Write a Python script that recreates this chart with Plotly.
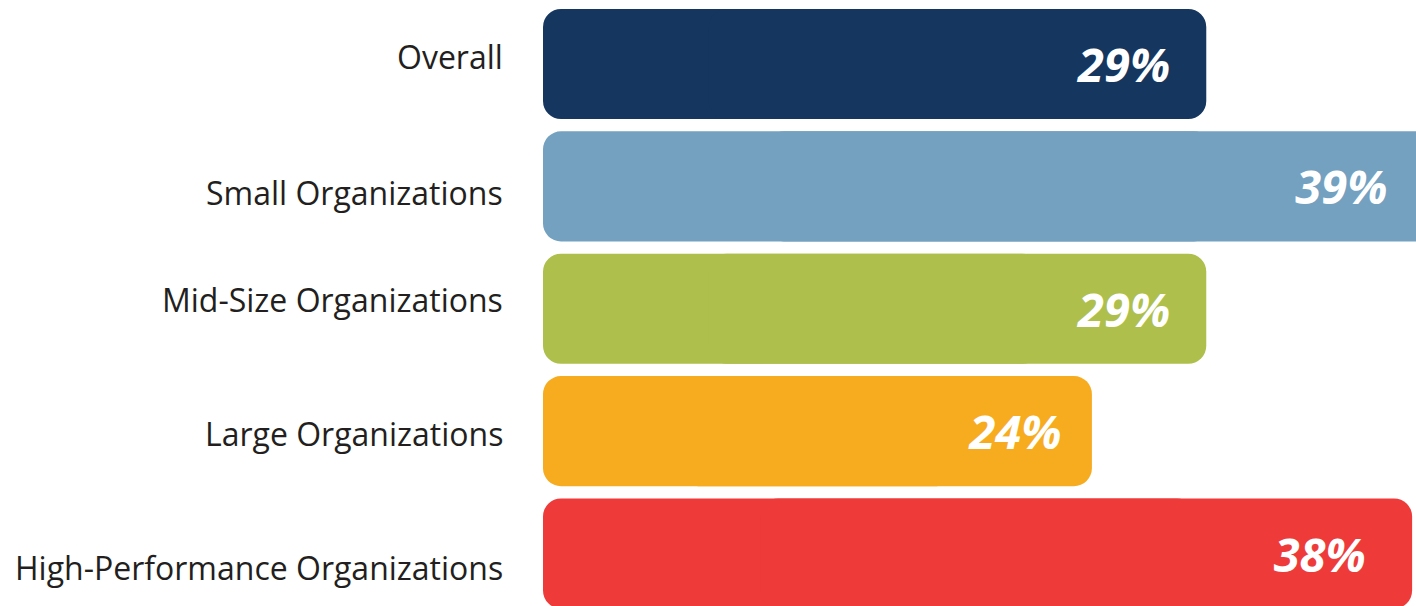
import plotly.graph_objects as go

# Share of organizations, by segment
categories = [
    "Overall",
    "Small Organizations",
    "Mid-Size Organizations",
    "Large Organizations",
    "High-Performance Organizations",
]
values = [29, 39, 29, 24, 38]
value_labels = ["29%", "39%", "29%", "24%", "38%"]
colors = ["#15375F", "#74A1C0", "#AFBF4C", "#F7AC20", "#EE3B3A"]

# Small vertical nudges (px) for the category labels
label_shift = [8, -6, 9, -2, -14]

# Each bar is drawn as two overlapping pieces: one grows right to the value
# (rounded right end), the other grows left to zero (rounded left end).
right_base = [v * 0.25 for v in values]
right_len = [v * 0.75 for v in values]
left_base = [v * 0.75 for v in values]
left_len = [-v * 0.75 for v in values]

# Value labels sit a little inside the end of each bar
label_inset = 0.95
label_len = [v * label_inset for v in values]

fig = go.Figure()
fig.add_trace(go.Bar(
    y=categories, x=left_len, base=left_base, orientation="h", width=0.9,
    marker=dict(color=colors, cornerradius=18, line=dict(width=0)),
    hoverinfo="skip", showlegend=False,
))
fig.add_trace(go.Bar(
    y=categories, x=right_len, base=right_base, orientation="h", width=0.9,
    marker=dict(color=colors, cornerradius=18, line=dict(width=0)),
    hoverinfo="skip", showlegend=False,
))
fig.add_trace(go.Bar(
    y=categories, x=label_len, orientation="h", width=0.9,
    marker=dict(color="rgba(0,0,0,0)", line=dict(width=0)),
    text=value_labels, textposition="inside", insidetextanchor="end",
    constraintext="none",
    textfont=dict(family="Open Sans", size=47, color="white", weight="bold",
                  style="italic"),
    hoverinfo="skip", showlegend=False,
))

# Category labels to the left of the bars
for cat, dy in zip(categories, label_shift):
    fig.add_annotation(
        x=0, y=cat, xref="paper", yref="y",
        text=cat, showarrow=False,
        xanchor="right", yanchor="middle", xshift=-38, yshift=dy,
        font=dict(family="Open Sans", size=32, color="#231F20"),
    )

fig.update_layout(
    width=1416, height=606,
    margin=dict(l=543, r=0, t=0, b=0),
    paper_bgcolor="white", plot_bgcolor="white",
    barmode="overlay",
    xaxis=dict(range=[0, 38.17], visible=False, fixedrange=True),
    yaxis=dict(
        categoryorder="array", categoryarray=categories,
        range=[4.429, -0.523],
        showgrid=False, zeroline=False, showline=False, ticks="",
        showticklabels=False, fixedrange=True,
    ),
)

fig.write_html("out.html", config={"displayModeBar": False})
